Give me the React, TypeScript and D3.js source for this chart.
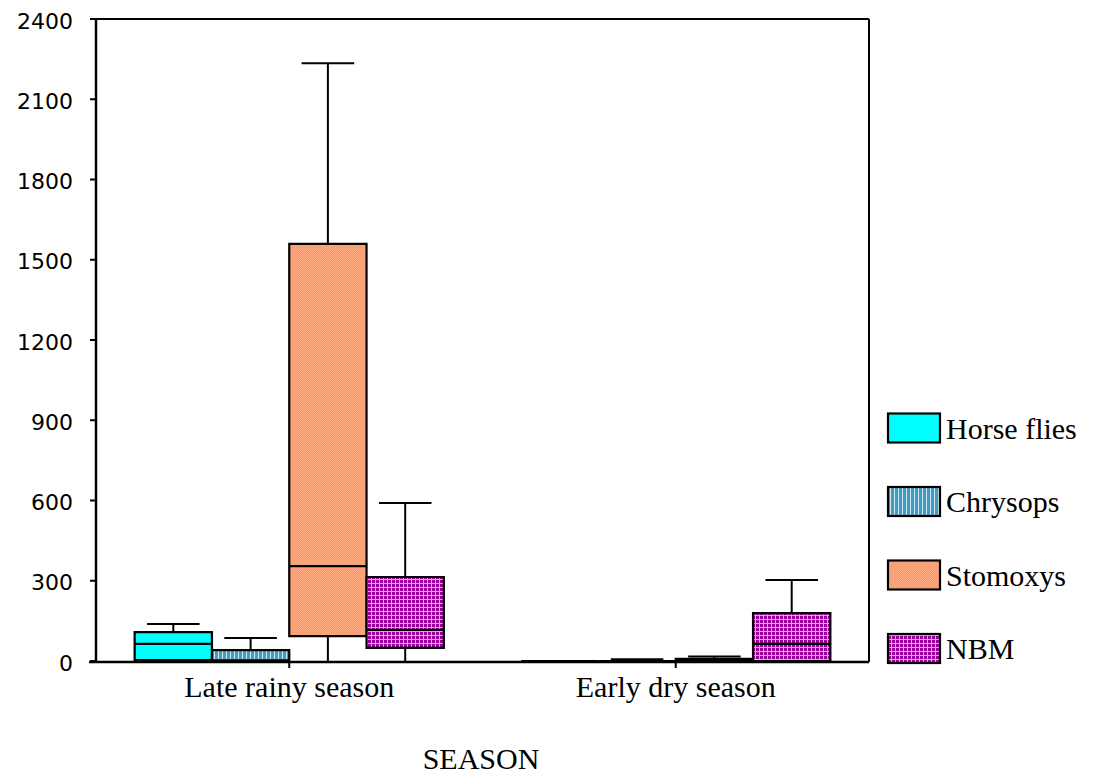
import React from 'react';
import * as d3 from 'd3';

const seasons = ['Late rainy season', 'Early dry season'];
const species = ['Horse flies', 'Chrysops', 'Stomoxys', 'NBM'];
// [min, q1, median, q3, max] for each season
const horseFlies = [[0, 3, 64, 108, 138], [0, 0, 0, 0, 0]];
const chrysops = [[0, 2, 2, 41, 86], [0, 0, 0, 0, 7]];
const stomoxys = [[0, 93, 355, 1559, 2235], [0, 0, 2, 8, 17]];
const nbm = [[0, 49, 116, 314, 591], [0, 0, 64, 179, 303]];
const yTicks = [0, 300, 600, 900, 1200, 1500, 1800, 2100, 2400];

const seriesStats = [horseFlies, chrysops, stomoxys, nbm];
const fills = ['#00FFFF', 'url(#pChrysops)', 'url(#pStomoxys)', 'url(#pNbm)'];

const W = 1100, H = 778;
const left = 96, right = 869, top = 19, bottom = 661;

export default function App() {
  const x0 = d3.scaleBand<string>().domain(seasons).range([left, right]).paddingInner(0).paddingOuter(0);
  const inner = d3.scaleBand<string>().domain(species).range([0, x0.bandwidth()]).paddingOuter(0.5).paddingInner(0);
  const y = d3.scaleLinear().domain([0, 2400]).range([bottom, top]);
  const bw = inner.bandwidth();
  const capW = bw * 0.68;
  const serif = '"Liberation Serif", "Times New Roman", serif';
  const sans = '"DejaVu Sans", Arial, sans-serif';

  return (
    <svg width={W} height={H} style={{ position: 'absolute', left: 0, top: 0, background: '#fff' }}>
      <defs>
        <pattern id="pChrysops" width="4" height="4" patternUnits="userSpaceOnUse">
          <rect width="4" height="4" fill="#3F9CC2" />
          <rect x="2" width="1" height="4" fill="#CFE7F1" />
        </pattern>
        <pattern id="pStomoxys" width="2" height="2" patternUnits="userSpaceOnUse">
          <rect width="2" height="2" fill="#FF9660" />
          <rect width="1" height="1" fill="#FFAA80" />
          <rect x="1" y="1" width="1" height="1" fill="#FFAA80" />
        </pattern>
        <pattern id="pNbm" width="4" height="4" patternUnits="userSpaceOnUse">
          <rect width="4" height="4" fill="#990099" />
          <rect x="3" width="1" height="4" fill="#E2A8E2" />
          <rect y="3" width="4" height="1" fill="#E2A8E2" />
        </pattern>
      </defs>
      <rect x={0} y={0} width={W} height={H} fill="#fff" />

      {/* boxes */}
      {seasons.map((s, si) =>
        species.map((sp, k) => {
          const [mn, q1, med, q3, mx] = seriesStats[k][si];
          const bx = (x0(s) as number) + (inner(sp) as number);
          const cx = bx + bw / 2;
          const yq1 = y(q1), yq3 = y(q3);
          return (
            <g key={s + sp}>
              {mx > q3 && (
                <>
                  <line x1={cx} x2={cx} y1={y(mx)} y2={yq3} stroke="#000" strokeWidth={2} />
                  <line x1={cx - capW / 2} x2={cx + capW / 2} y1={y(mx)} y2={y(mx)} stroke="#000" strokeWidth={2} />
                </>
              )}
              {mn < q1 && <line x1={cx} x2={cx} y1={yq1} y2={y(mn)} stroke="#000" strokeWidth={2} />}
              <path
                d={`M${bx},${yq3}H${bx + bw}V${yq1}H${bx}Z`}
                fill={fills[k]}
                stroke="#000"
                strokeWidth={2.2}
              />
              {med > q1 && med < q3 && (
                <line x1={bx} x2={bx + bw} y1={y(med)} y2={y(med)} stroke="#000" strokeWidth={2.2} />
              )}
            </g>
          );
        })
      )}

      {/* frame */}
      <line x1={left} x2={right} y1={top} y2={top} stroke="#000" strokeWidth={2} />
      <line x1={right} x2={right} y1={top} y2={bottom + 1} stroke="#000" strokeWidth={2} />
      <line x1={left} x2={left} y1={top} y2={bottom + 1} stroke="#000" strokeWidth={2.5} />
      <line x1={left - 7} x2={right} y1={bottom + 1} y2={bottom + 1} stroke="#000" strokeWidth={2.5} />

      {/* y ticks */}
      {yTicks.map((t) => (
        <g key={t}>
          <line x1={left - 6} x2={left} y1={y(t)} y2={y(t)} stroke="#000" strokeWidth={2} />
          <text x={73} y={y(t) + 2} textAnchor="end" dominantBaseline="central" fontFamily={sans} fontSize={22} fill="#000">
            {t}
          </text>
        </g>
      ))}

      {/* x ticks and labels */}
      {seasons.map((s) => {
        const cx = (x0(s) as number) + x0.bandwidth() / 2;
        return (
          <g key={s}>
            <line x1={cx} x2={cx} y1={bottom + 1} y2={bottom + 7} stroke="#000" strokeWidth={2} />
            <text x={cx} y={697} textAnchor="middle" fontFamily={serif} fontSize={30} fill="#000">
              {s}
            </text>
          </g>
        );
      })}

      <text x={481} y={769} textAnchor="middle" fontFamily={serif} fontSize={30} fill="#000">
        SEASON
      </text>

      {/* legend */}
      {species.map((sp, k) => {
        const cy = 428 + k * 73.5;
        return (
          <g key={sp}>
            <rect x={888} y={cy - 14.5} width={52} height={29} fill={fills[k]} stroke="#000" strokeWidth={2.2} />
            <text x={946} y={cy} dominantBaseline="central" fontFamily={serif} fontSize={30} fill="#000">
              {sp}
            </text>
          </g>
        );
      })}
    </svg>
  );
}
